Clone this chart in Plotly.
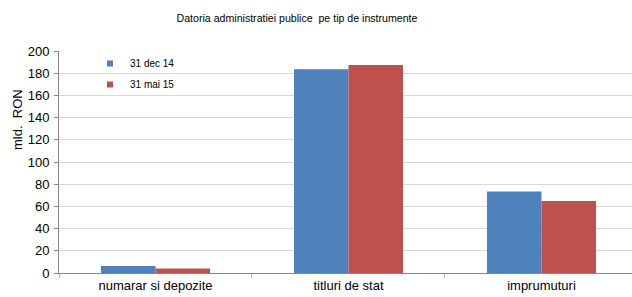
import plotly.graph_objects as go

categories = ["numarar si depozite", "titluri de stat", "imprumuturi"]
series_names = ["31 dec 14", "31 mai 15"]
values_dec14 = [6.3, 183.6, 73.5]
values_mai15 = [4.0, 187.3, 64.8]
colors = ["#4f81bd", "#c0504d"]
y_ticks = [0, 20, 40, 60, 80, 100, 120, 140, 160, 180, 200]

FONT = "Liberation Sans, Arial, sans-serif"
L, T, B, W, H = 59, 51, 24, 632, 297
PW, PH = W - L, H - T - B

def px_x(x):
    return (x - L) / PW

def px_y(y):
    return (H - B - y) / PH

fig = go.Figure()
for i, (name, vals, col) in enumerate(zip(series_names, [values_dec14, values_mai15], colors)):
    fig.add_trace(go.Bar(
        x=categories, y=vals, name=name, marker_color=col,
        marker_line_width=0, showlegend=False, legendgroup=f"b{i}",
    ))
    # legend proxy with small square marker
    fig.add_trace(go.Scatter(
        x=[None], y=[None], mode="markers", name=name, legendgroup=f"s{i}",
        marker=dict(symbol="square", size=6, color=col),
    ))

fig.update_layout(
    width=W, height=H,
    margin=dict(l=L, r=0, t=T, b=B),
    paper_bgcolor="white", plot_bgcolor="white",
    font=dict(family=FONT, size=13, color="#000000"),
    barmode="group", bargap=0.435, bargroupgap=0,
    title=dict(text="Datoria administratiei publice\u00a0 pe tip de instrumente",
               x=297 / W, xanchor="center", y=1 - 18 / H, yanchor="middle",
               font=dict(size=10.6, family=FONT)),
    showlegend=True,
    legend=dict(x=px_x(90), y=px_y(49), xanchor="left", yanchor="top",
                font=dict(size=10, family=FONT), bgcolor="rgba(0,0,0,0)",
                itemwidth=30, tracegroupgap=2, traceorder="grouped"),
    xaxis=dict(range=[-0.5, 2.469], showline=True, linecolor="#868686",
               linewidth=1, ticks="outside", tickson="boundaries",
               ticklen=4, tickcolor="#bfbfbf", showgrid=False,
               tickfont=dict(size=13), automargin=False),
    yaxis=dict(range=[0, 200], tickvals=y_ticks, showline=True,
               linecolor="#868686", linewidth=1, ticks="outside", ticklen=4,
               tickcolor="#868686", gridcolor="#d9d9d9", gridwidth=1,
               zeroline=False, tickfont=dict(size=13), automargin=False,
               ticklabelstandoff=2),
    annotations=[dict(text="mld.\u00a0 RON", textangle=-90, x=px_x(17), y=px_y(120),
                      xref="paper", yref="paper", showarrow=False,
                      xanchor="center", yanchor="middle",
                      font=dict(size=13, family=FONT))],
)

fig.write_html("out.html", config={"displayModeBar": False},
               post_script="document.body.style.margin='0';document.body.style.padding='0';")
